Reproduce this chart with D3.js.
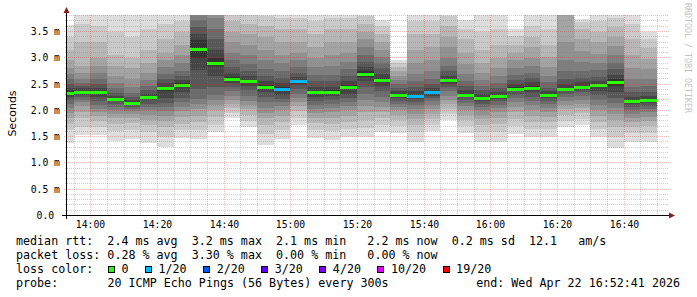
<!DOCTYPE html>
<html><head><meta charset="utf-8">
<script src="https://cdn.jsdelivr.net/npm/d3@7"></script>
<style>
body{margin:0;background:#fff}
svg{display:block}
text{font-family:"DejaVu Sans Mono",monospace;white-space:pre}
</style>
</head><body><svg id="c" width="697" height="297"></svg>
<script>
// ---------- data ----------
const startTime = "13:52:41";
const endTime = "16:52:41";
const sampleEnds = ["13:55","14:00","14:05","14:10","14:15","14:20","14:25","14:30","14:35","14:40",
  "14:45","14:50","14:55","15:00","15:05","15:10","15:15","15:20","15:25","15:30",
  "15:35","15:40","15:45","15:50","15:55","16:00","16:05","16:10","16:15","16:20",
  "16:25","16:30","16:35","16:40","16:45","16:50"];
const medians = [2.33,2.35,2.34,2.21,2.14,2.25,2.42,2.48,3.17,2.91,
  2.60,2.55,2.45,2.41,2.56,2.34,2.35,2.44,2.69,2.58,
  2.29,2.28,2.35,2.58,2.30,2.24,2.28,2.41,2.43,2.29,
  2.41,2.45,2.48,2.54,2.18,2.19];
const lossCount = [0,0,0,0,0,0,0,0,0,0, 0,0,0,1,1,0,0,0,0,0, 0,1,1,0,0,0,0,0,0,0, 0,0,0,0,0,0];
// 20 sorted ping RTTs (ms) per 5-minute sample
const pings = [
 [1.38,1.62,1.75,1.85,1.95,2.05,2.12,2.2,2.26,2.3,2.36,2.42,2.5,2.6,2.7,2.8,2.95,3.15,3.4,3.62],
 [1.53,1.69,1.85,1.97,2.08,2.15,2.2,2.25,2.3,2.33,2.37,2.42,2.47,2.52,2.6,2.72,2.85,3.3,3.65,3.95],
 [1.53,1.68,1.8,1.9,1.97,2.03,2.1,2.18,2.26,2.32,2.36,2.42,2.5,2.6,2.72,2.85,3.0,3.3,3.6,3.9],
 [1.42,1.6,1.75,1.85,1.93,2.0,2.06,2.12,2.17,2.2,2.23,2.27,2.33,2.42,2.52,2.65,2.85,3.05,3.5,3.95],
 [1.45,1.62,1.76,1.86,1.94,1.99,2.03,2.07,2.11,2.13,2.15,2.19,2.25,2.33,2.45,2.6,2.8,3.0,3.4,3.9],
 [1.38,1.58,1.72,1.82,1.92,2.0,2.07,2.13,2.19,2.23,2.27,2.32,2.38,2.47,2.58,2.72,2.9,3.15,3.55,3.95],
 [1.3,1.5,1.68,1.8,1.9,1.98,2.06,2.14,2.24,2.36,2.45,2.52,2.6,2.7,2.82,2.95,3.1,3.35,3.65,3.95],
 [1.47,1.62,1.75,1.88,1.98,2.07,2.15,2.24,2.34,2.44,2.52,2.58,2.65,2.75,2.9,3.05,3.25,3.5,3.7,3.95],
 [1.46,1.62,1.78,1.9,2.03,2.12,2.22,2.41,2.76,3.0,3.34,3.45,3.58,3.72,3.9,4.0,4.1,4.2,4.3,4.4],
 [1.59,1.72,1.88,2.0,2.1,2.2,2.3,2.45,2.65,2.85,3.0,3.15,3.35,3.55,3.75,3.95,4.1,4.2,4.3,4.4],
 [1.86,1.95,2.05,2.12,2.2,2.28,2.36,2.45,2.52,2.58,2.63,2.72,2.82,2.95,3.1,3.3,3.5,3.7,3.85,4.0],
 [1.68,1.8,1.92,2.02,2.1,2.18,2.28,2.38,2.46,2.52,2.58,2.65,2.75,2.88,3.05,3.25,3.45,3.65,3.85,4.0],
 [1.35,1.55,1.72,1.85,1.95,2.05,2.15,2.25,2.35,2.42,2.48,2.56,2.65,2.78,2.95,3.15,3.4,3.6,3.8,4.0],
 [1.45,1.62,1.78,1.9,2.0,2.08,2.15,2.22,2.3,2.38,2.44,2.52,2.62,2.75,2.9,3.05,3.3,3.55,3.75,3.95],
 [1.72,1.85,1.98,2.08,2.16,2.24,2.32,2.4,2.48,2.54,2.58,2.64,2.72,2.82,2.95,3.1,3.3,3.55,3.75,3.95],
 [1.47,1.62,1.76,1.86,1.95,2.03,2.1,2.18,2.25,2.31,2.37,2.45,2.55,2.68,2.82,3.0,3.2,3.45,3.7,3.95],
 [1.44,1.6,1.75,1.86,1.96,2.04,2.12,2.2,2.27,2.33,2.38,2.45,2.55,2.68,2.85,3.05,3.3,3.55,3.75,3.95],
 [1.5,1.64,1.78,1.9,2.0,2.08,2.16,2.24,2.32,2.4,2.48,2.56,2.66,2.78,2.92,3.1,3.3,3.55,3.75,3.95],
 [1.5,1.66,1.82,1.96,2.08,2.2,2.32,2.44,2.55,2.64,2.74,2.82,2.92,3.05,3.2,3.35,3.5,3.65,3.8,3.95],
 [1.59,1.72,1.85,1.96,2.06,2.16,2.26,2.36,2.46,2.54,2.62,2.7,2.8,2.9,3.02,3.15,3.3,3.45,3.6,3.72],
 [1.56,1.7,1.82,1.92,2.0,2.07,2.13,2.18,2.23,2.27,2.31,2.36,2.42,2.5,2.58,2.66,2.74,2.82,2.9,2.95],
 [1.4,1.58,1.72,1.84,1.94,2.02,2.1,2.16,2.22,2.26,2.3,2.36,2.44,2.55,2.7,2.9,3.15,3.45,3.7,3.95],
 [1.6,1.72,1.84,1.94,2.02,2.1,2.17,2.23,2.28,2.33,2.37,2.43,2.5,2.6,2.75,2.95,3.2,3.45,3.7,3.95],
 [1.82,1.93,2.03,2.12,2.2,2.28,2.36,2.44,2.51,2.56,2.6,2.66,2.74,2.85,3.0,3.2,3.4,3.6,3.8,3.95],
 [1.56,1.7,1.82,1.92,2.0,2.08,2.14,2.2,2.25,2.28,2.32,2.38,2.46,2.56,2.7,2.88,3.1,3.35,3.55,3.71],
 [1.4,1.58,1.72,1.83,1.92,2.0,2.07,2.13,2.18,2.22,2.26,2.31,2.38,2.47,2.58,2.72,2.9,3.15,3.5,3.95],
 [1.4,1.58,1.74,1.86,1.96,2.04,2.11,2.17,2.22,2.26,2.3,2.35,2.42,2.52,2.65,2.8,3.0,3.25,3.55,3.95],
 [1.55,1.7,1.84,1.96,2.06,2.15,2.23,2.3,2.36,2.4,2.44,2.5,2.58,2.68,2.8,2.95,3.1,3.25,3.42,3.55],
 [1.5,1.64,1.78,1.9,2.0,2.1,2.18,2.26,2.34,2.4,2.46,2.53,2.62,2.72,2.85,3.0,3.2,3.4,3.6,3.95],
 [1.5,1.64,1.77,1.88,1.97,2.05,2.12,2.18,2.24,2.28,2.31,2.36,2.43,2.53,2.66,2.82,3.02,3.25,3.55,3.95],
 [1.68,1.8,1.92,2.02,2.1,2.18,2.25,2.31,2.36,2.4,2.43,2.5,2.6,2.75,2.95,3.3,3.9,4.0,4.1,4.2],
 [1.73,1.84,1.95,2.04,2.12,2.2,2.27,2.34,2.39,2.43,2.47,2.53,2.62,2.75,2.92,3.12,3.35,3.55,3.68,3.73],
 [1.5,1.65,1.78,1.9,2.0,2.1,2.2,2.29,2.37,2.44,2.5,2.56,2.64,2.76,2.9,3.08,3.3,3.5,3.7,3.95],
 [1.28,1.5,1.68,1.82,1.94,2.04,2.14,2.24,2.34,2.46,2.6,2.68,2.78,2.9,3.05,3.22,3.4,3.58,3.75,3.95],
 [1.4,1.56,1.68,1.78,1.86,1.94,2.0,2.06,2.12,2.16,2.2,2.26,2.34,2.45,2.6,2.8,3.05,3.35,3.65,3.9],
 [1.4,1.56,1.7,1.8,1.88,1.96,2.03,2.09,2.14,2.17,2.21,2.27,2.35,2.46,2.6,2.78,2.98,3.18,3.36,3.5]
];
const yTickValues = [0,0.5,1.0,1.5,2.0,2.5,3.0,3.5];
const yTickLabels = ["0.0\u00a0","0.5 m","1.0 m","1.5 m","2.0 m","2.5 m","3.0 m","3.5 m"];
const xTickLabels = ["14:00","14:20","14:40","15:00","15:20","15:40","16:00","16:20","16:40"];
const lossLabels = ["0","1/20","2/20","3/20","4/20","10/20","19/20"];
const lossColors = ["#26ff00","#00b8ff","#0059ff","#5e00ff","#7e00ff","#dd00ff","#ff0000"];
const legendRows = [
  "median rtt:  2.4 ms avg  3.2 ms max  2.1 ms min   2.2 ms now  0.2 ms sd  12.1   am/s",
  "packet loss: 0.28 % avg  3.30 % max  0.00 % min   0.00 % now"
];
const lossTitle = "loss color:";
const probeLabel = "probe:";
const probeText = "20 ICMP Echo Pings (56 Bytes) every 300s";
const endText = "end: Wed Apr 22 16:52:41 2026";
const yTitle = "Seconds";
const watermark = "RRDTOOL / TOBI OETIKER";

// ---------- setup ----------
const svg = d3.select("#c");
const toDate = s => { const p = s.split(":").map(Number); return new Date(Date.UTC(2026,3,22,p[0],p[1],p[2]||0)); };
const t0 = toDate(startTime), t1 = toDate(endTime);
const x = d3.scaleUtc().domain([t0, t1]).range([66, 666]);
const y = d3.scaleLinear().domain([0, 3.5]).range([215.5, 31.5]);
const plotTop = 15, plotBottom = 215.5, plotLeft = 66.5, plotRight = 666;
const px = d => Math.round(x(d)) + 0.5;
const py = v => Math.round(y(v) - 0.5) + 0.5;

svg.append("rect").attr("width",697).attr("height",297).attr("fill","#fff");

svg.append("clipPath").attr("id","plot").append("rect")
  .attr("x", plotLeft).attr("y", plotTop).attr("width", plotRight - plotLeft).attr("height", plotBottom - plotTop);

const gData = svg.append("g").attr("clip-path","url(#plot)").attr("shape-rendering","crispEdges");

// smoke
const half = 10;
sampleEnds.forEach((e, i) => {
  const tEnd = toDate(e), tStart = new Date(tEnd.getTime() - 300000);
  const xa = Math.round(x(tStart)), xb = Math.round(x(tEnd));
  const p = pings[i];
  for (let k = 0; k < half; k++) {
    const c = Math.floor(190 / half * (half - (k + 1))) + 50;
    const ya = Math.round(y(p[19 - k])), yb = Math.round(y(p[k]));
    gData.append("rect").attr("x", xa).attr("width", xb - xa)
      .attr("y", ya).attr("height", Math.max(0, yb - ya))
      .attr("fill", d3.rgb(c, c, c));
  }
});
// medians
sampleEnds.forEach((e, i) => {
  const tEnd = toDate(e), tStart = new Date(tEnd.getTime() - 300000);
  const xa = Math.round(x(tStart)), xb = Math.round(x(tEnd));
  const ym = Math.round(y(medians[i]));
  gData.append("rect").attr("x", xa).attr("width", xb - xa)
    .attr("y", ym - 1.5).attr("height", 3)
    .attr("fill", lossColors[lossCount[i]]);
});

// ---------- grid (drawn over data, like rrdtool) ----------
const gGrid = svg.append("g").attr("shape-rendering","crispEdges");
const minorCol = "rgba(130,130,130,0.38)", majorCol = "rgba(210,40,40,0.3)";
for (let m = 1; m <= 38; m++) {
  const v = m / 10;
  if (m % 5 === 0) continue;
  gGrid.append("line").attr("x1",65).attr("x2",668).attr("y1",py(v)).attr("y2",py(v))
    .attr("stroke",minorCol).attr("stroke-dasharray","1,1");
}
yTickValues.forEach(v => {
  if (v === 0) return;
  gGrid.append("line").attr("x1",64).attr("x2",669).attr("y1",py(v)).attr("y2",py(v))
    .attr("stroke",majorCol).attr("stroke-dasharray","1,1");
});
const fiveMin = d3.utcMinute.every(5).range(t0, t1);
fiveMin.forEach(d => {
  const major = d.getUTCMinutes() % 20 === 0;
  gGrid.append("line").attr("x1",px(d)).attr("x2",px(d)).attr("y1",plotTop).attr("y2",major?218:217)
    .attr("stroke",major?majorCol:minorCol).attr("stroke-dasharray","1,1");
});

// ---------- axes ----------
const gAxis = svg.append("g").attr("shape-rendering","crispEdges");
gAxis.append("line").attr("x1",62).attr("x2",669).attr("y1",215.5).attr("y2",215.5).attr("stroke","#000");
gAxis.append("line").attr("x1",66.5).attr("x2",66.5).attr("y1",219).attr("y2",12).attr("stroke","#000");
svg.append("path").attr("d","M63.5,13L69.5,13L66.5,7Z").attr("fill","#8a1c1c");
svg.append("path").attr("d","M669,212.5L669,218.5L675,215.5Z").attr("fill","#8a1c1c");

// y labels
yTickValues.forEach((v, i) => {
  svg.append("text").attr("x",60).attr("y",py(v) + 3.8).attr("text-anchor","end")
    .attr("font-size","9.75px").attr("fill","#000").text(yTickLabels[i]);
});
// x labels
xTickLabels.forEach(s => {
  const d = toDate(s);
  svg.append("text").attr("x",px(d)).attr("y",228).attr("text-anchor","middle")
    .attr("font-size","9.75px").attr("fill","#000").text(s);
});

// y title
svg.append("text").attr("transform","translate(15.5,113.5) rotate(-90)").attr("text-anchor","middle")
  .style("font-family","'DejaVu Sans',sans-serif").attr("font-size","11px").attr("fill","#000").text(yTitle);
// watermark
svg.append("text").attr("transform","translate(684.5,3) rotate(90)").attr("text-anchor","start")
  .attr("font-size","8.3px").attr("fill","#c4c4c4").text(watermark);

// ---------- legend ----------
const lf = "11.68px";
legendRows.forEach((r, i) => {
  svg.append("text").attr("x",16).attr("y",245 + i*14).attr("font-size",lf).attr("fill","#000").text(r);
});
svg.append("text").attr("x",16).attr("y",273).attr("font-size",lf).attr("fill","#000").text(lossTitle);
let lx = 108;
lossLabels.forEach((lab, i) => {
  svg.append("rect").attr("x",lx+0.5).attr("y",266.5).attr("width",6).attr("height",6)
    .attr("fill",lossColors[i]).attr("stroke","#000").attr("shape-rendering","crispEdges");
  const t = svg.append("text").attr("x",lx+13.5).attr("y",273).attr("font-size",lf).attr("fill","#000").text(lab);
  lx += 13.5 + t.node().getComputedTextLength() + 16.5;
});
svg.append("text").attr("x",16).attr("y",287).attr("font-size",lf).attr("fill","#000").text(probeLabel);
svg.append("text").attr("x",107.5).attr("y",287).attr("font-size",lf).attr("fill","#000").text(probeText);
svg.append("text").attr("x",680).attr("y",287).attr("text-anchor","end").attr("font-size",lf).attr("fill","#000").text(endText);
</script>
</body></html>
